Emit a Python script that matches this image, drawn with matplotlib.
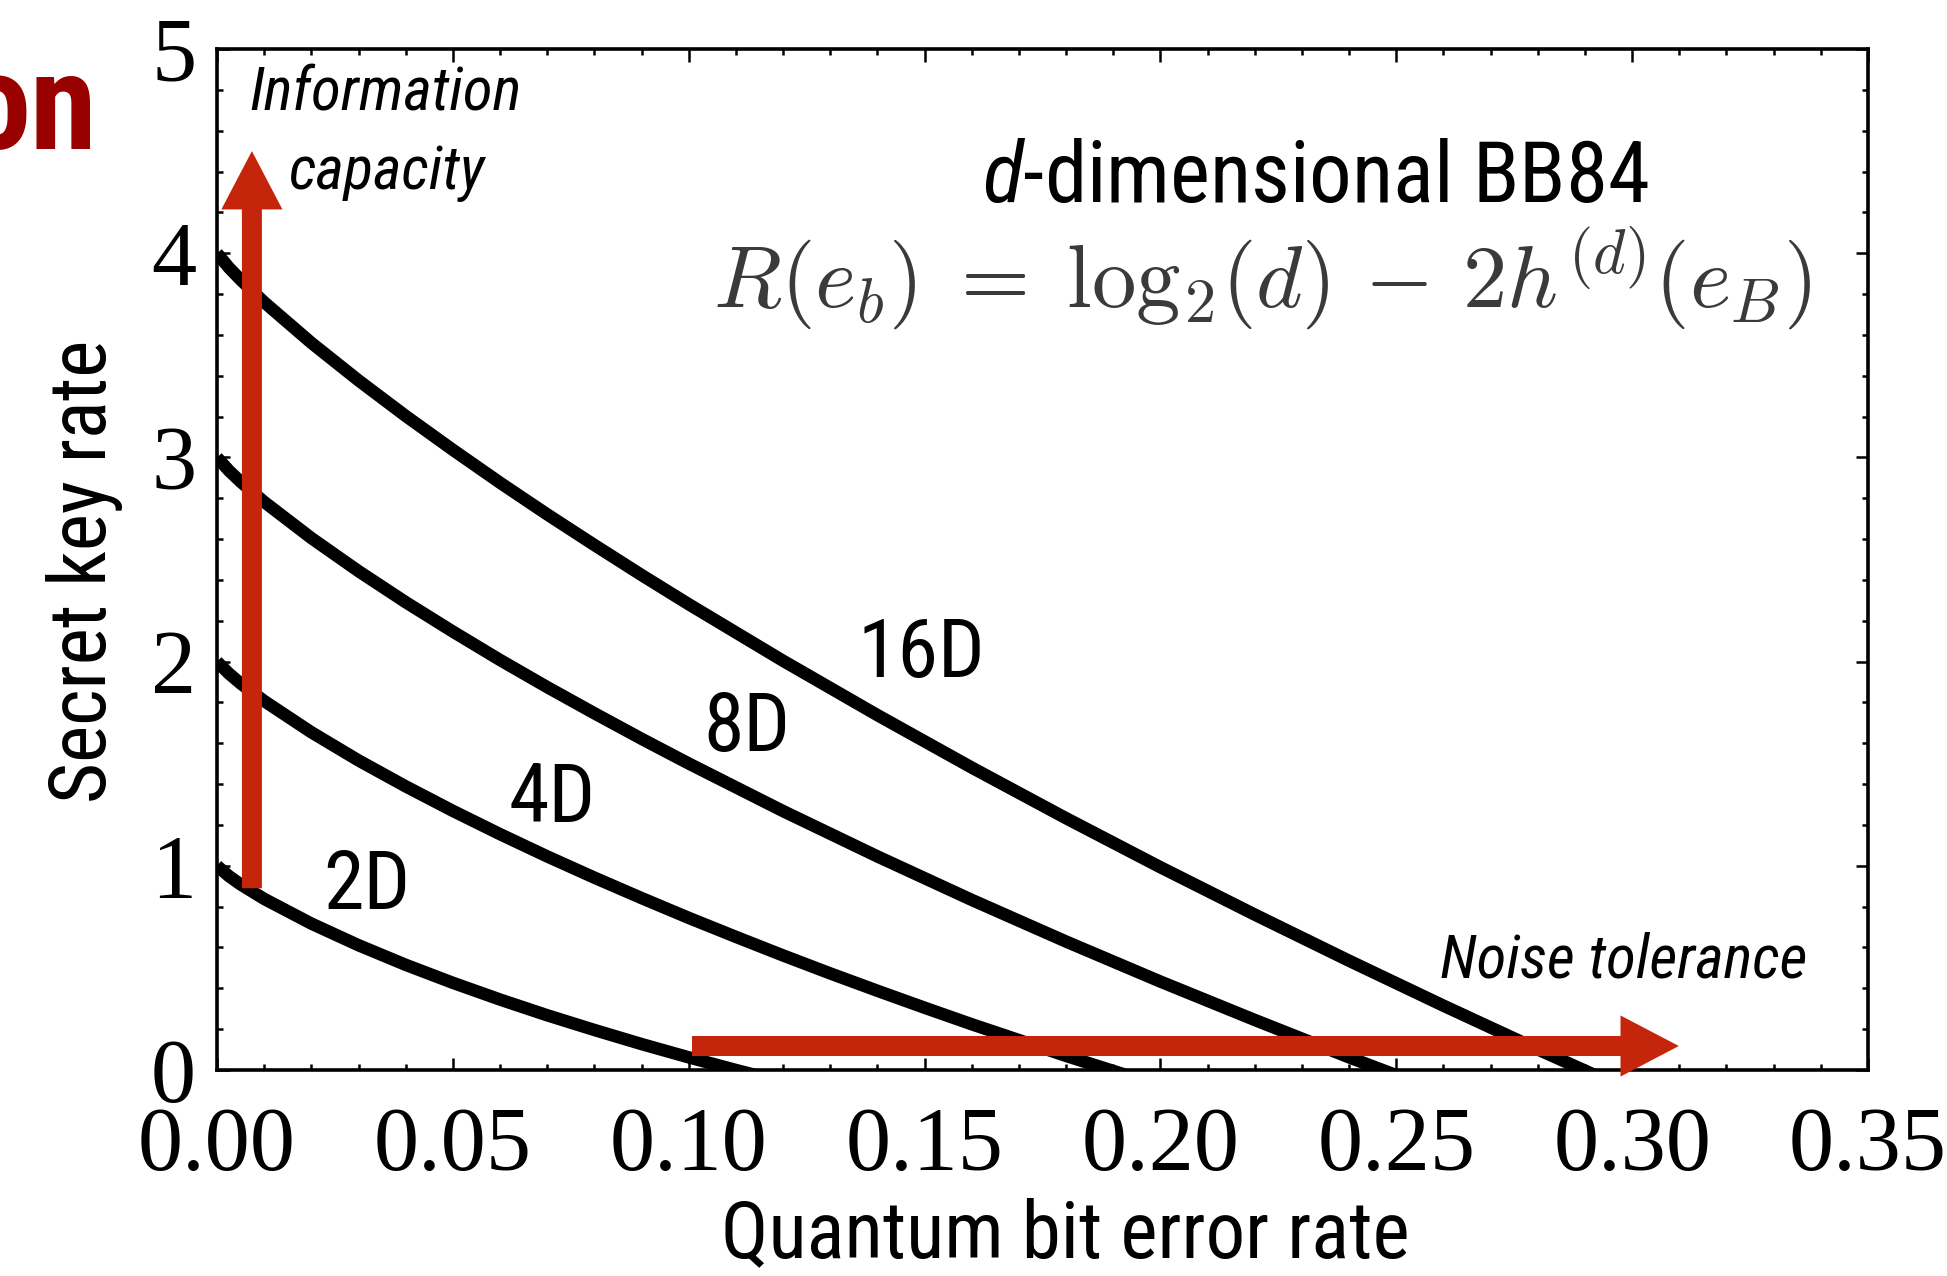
import sys
import matplotlib
matplotlib.use('Agg')
import matplotlib.pyplot as plt
from matplotlib import font_manager as fm
from matplotlib.patches import FancyArrowPatch, ArrowStyle
from matplotlib.ticker import FixedLocator, FixedFormatter, MultipleLocator

# ---------------- data ----------------
qber_2d = [0, 0.0025, 0.005, 0.01, 0.02, 0.03, 0.04, 0.05, 0.06, 0.07, 0.08, 0.09, 0.10, 0.11, 0.12]
rate_2d = [1.00, 0.950, 0.909, 0.838, 0.717, 0.611, 0.515, 0.427, 0.345, 0.268, 0.196, 0.127, 0.062, 0.000, -0.059]

qber_4d = [0, 0.0025, 0.005, 0.01, 0.02, 0.03, 0.04, 0.05, 0.06, 0.07, 0.08, 0.09, 0.10, 0.11,
           0.12, 0.13, 0.14, 0.15, 0.16, 0.18, 0.20]
rate_4d = [2.00, 1.942, 1.893, 1.807, 1.654, 1.516, 1.389, 1.269, 1.155, 1.046, 0.942, 0.842, 0.745, 0.652,
           0.561, 0.473, 0.388, 0.305, 0.224, 0.069, -0.078]

qber_8d = [0, 0.0025, 0.005, 0.01, 0.02, 0.03, 0.04, 0.05, 0.06, 0.07, 0.08, 0.09, 0.10, 0.12,
           0.14, 0.16, 0.18, 0.20, 0.22, 0.24, 0.26]
rate_8d = [3.00, 2.936, 2.881, 2.782, 2.605, 2.443, 2.291, 2.147, 2.008, 1.875, 1.747, 1.622, 1.501, 1.268,
           1.046, 0.833, 0.629, 0.433, 0.245, 0.062, -0.113]

qber_16d = [0, 0.0025, 0.005, 0.01, 0.02, 0.03, 0.04, 0.05, 0.06, 0.07, 0.08, 0.09, 0.10, 0.12,
            0.14, 0.16, 0.18, 0.20, 0.22, 0.24, 0.26, 0.28, 0.30]
rate_16d = [4.00, 3.930, 3.870, 3.760, 3.561, 3.377, 3.203, 3.037, 2.876, 2.721, 2.571, 2.424, 2.281, 2.004,
            1.738, 1.481, 1.233, 0.993, 0.761, 0.535, 0.315, 0.101, -0.107]

curve_names = ["2D", "4D", "8D", "16D"]
label_x = [0.0225, 0.0619, 0.1032, 0.1357]
label_y = [0.788, 1.214, 1.562, 1.925]

x_ticks = [0.00, 0.05, 0.10, 0.15, 0.20, 0.25, 0.30, 0.35]
x_tick_labels = ["0.00", "0.05", "0.10", "0.15", "0.20", "0.25", "0.30", "0.35"]
y_ticks = [0, 1, 2, 3, 4, 5]
y_tick_labels = ["0", "1", "2", "3", "4", "5"]

# arrow annotations (data coords): (x_start, y_start, x_end, y_end)
arrow_capacity = (0.0074, 0.89, 0.0074, 4.50)
arrow_noise = (0.1007, 0.1175, 0.3099, 0.1175)

# ---------------- fonts ----------------
avail = {f.name for f in fm.fontManager.ttflist}
NARROW = next((n for n in ['Liberation Sans Narrow', 'Arial Narrow', 'Nimbus Sans Narrow',
                           'Roboto Condensed'] if n in avail), None)
SANS = NARROW if NARROW else 'Liberation Sans'
SERIF = 'Liberation Serif'

if NARROW:
    em = dict(title=85, label=79, curve=82, ital=61, on=135)
else:
    em = dict(title=76, label=71, curve=72, ital=54, on=115)
pt = {k: v * 0.72 for k, v in em.items()}

plt.rcParams['mathtext.fontset'] = 'custom'
plt.rcParams['mathtext.rm'] = SANS
plt.rcParams['mathtext.it'] = SANS + ':italic'

RED = '#C5250A'

# ---------------- figure ----------------
W, H = 1947, 1276
fig = plt.figure(figsize=(W / 100, H / 100), dpi=100)
L, R, T, B = 217, 1868, 49, 1070
ax = fig.add_axes([L / W, 1 - B / H, (R - L) / W, (B - T) / H])

for xs, ys in [(qber_2d, rate_2d), (qber_4d, rate_4d), (qber_8d, rate_8d), (qber_16d, rate_16d)]:
    ax.plot(xs, ys, color='black', lw=9, solid_capstyle='butt', zorder=3)

ax.set_xlim(0, 0.35)
ax.set_ylim(0, 5)

ax.xaxis.set_major_locator(FixedLocator(x_ticks))
ax.xaxis.set_major_formatter(FixedFormatter(x_tick_labels))
ax.yaxis.set_major_locator(FixedLocator(y_ticks))
ax.yaxis.set_major_formatter(FixedFormatter(y_tick_labels))
ax.xaxis.set_minor_locator(MultipleLocator(0.01))
ax.yaxis.set_minor_locator(MultipleLocator(0.2))
ax.tick_params(which='both', direction='in', top=True, right=True, width=1.8, color='black')
ax.tick_params(which='major', length=9)
ax.tick_params(which='minor', length=4.5)
ax.tick_params(axis='x', which='major', pad=26)
ax.tick_params(axis='y', which='major', pad=15)
for lab in ax.get_xticklabels() + ax.get_yticklabels():
    lab.set_fontfamily(SERIF)
    lab.set_fontsize(65)
for s in ax.spines.values():
    s.set_linewidth(2.6)

ax.set_xlabel("Quantum bit error rate", fontfamily=SANS, fontsize=pt['label'])
ax.xaxis.label.set_va('baseline')
ax.xaxis.set_label_coords(0.514, -0.183)
ax.set_ylabel("Secret key rate", fontfamily=SANS, fontsize=pt['label'])
ax.yaxis.label.set_va('baseline')
ax.yaxis.set_label_coords(-0.067, 0.4887)

for name, lx, ly in zip(curve_names, label_x, label_y):
    ax.text(lx, ly, name, fontfamily=SANS, fontsize=pt['curve'], ha='left', va='baseline', zorder=4)

ax.text(0.665, 0.850, r"$\mathit{d}$-dimensional BB84", transform=ax.transAxes,
        fontfamily=SANS, fontsize=pt['title'], ha='center', va='baseline', math_fontfamily='custom')
ax.text(0.633, 0.747, r"$R(e_b)\;=\;\mathrm{log}_2(d)\,-\,2h^{(d)}(e_B)$", transform=ax.transAxes,
        fontsize=64, ha='center', va='baseline', color='#3a3a3a', math_fontfamily='cm')

ax.text(0.0358, 4.702, "Information", fontfamily=SANS, fontstyle='italic', fontsize=pt['ital'],
        ha='center', va='baseline', zorder=4)
ax.text(0.0358, 4.312, "capacity", fontfamily=SANS, fontstyle='italic', fontsize=pt['ital'],
        ha='center', va='baseline', zorder=4)
ax.text(0.2593, 0.455, "Noise tolerance", fontfamily=SANS, fontstyle='italic', fontsize=pt['ital'],
        ha='left', va='baseline', zorder=4)

style = ArrowStyle('Simple', head_length=42, head_width=44, tail_width=14.4)
for (x0, y0, x1, y1) in [arrow_capacity, arrow_noise]:
    ax.add_patch(FancyArrowPatch((x0, y0), (x1, y1), arrowstyle=style, mutation_scale=1,
                                 color=RED, lw=0, shrinkA=0, shrinkB=0, zorder=5, clip_on=False))

fig.text(97 / W, 1 - 149 / H, "on", color='#990000', fontweight='bold', fontfamily=SANS,
         fontsize=pt['on'], ha='right', va='baseline')

fig.savefig('out.png', dpi=100)
